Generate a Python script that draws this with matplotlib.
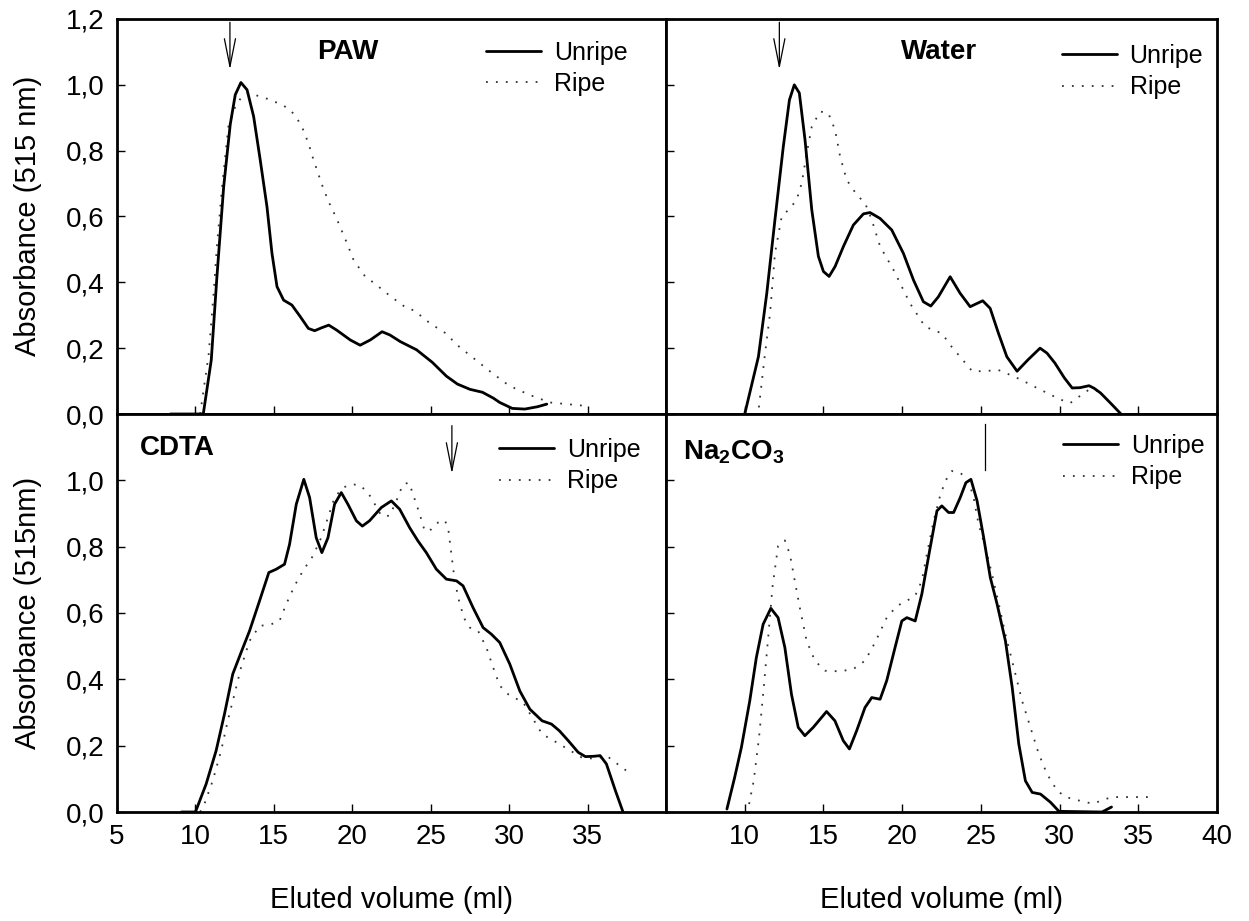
import matplotlib
matplotlib.use("Agg")
import matplotlib.pyplot as plt
from matplotlib.lines import Line2D

plt.rcParams['font.family'] = ['Liberation Sans', 'DejaVu Sans']
plt.rcParams['mathtext.fontset'] = 'custom'
plt.rcParams['mathtext.rm'] = 'Liberation Sans'
plt.rcParams['mathtext.bf'] = 'Liberation Sans:bold'

# ---- data (x = eluted volume ml, y = absorbance)
paw_unripe_x = [8.4, 10.5, 11.01, 11.37, 11.8, 12.22, 12.54, 12.9, 13.29, 13.71, 14.13, 14.56, 14.88, 15.2,
                15.62, 16.15, 16.68, 17.2, 17.6, 18.05, 18.5, 19.0, 19.87, 20.5, 21.15, 21.9, 22.4, 23.06,
                24.1, 25.1, 26.0, 26.7, 27.5, 28.3, 29.0, 29.4, 30.2, 31.0, 31.8, 32.4]
paw_unripe_y = [0.0, 0.0, 0.164, 0.417, 0.69, 0.88, 0.97, 1.007, 0.985, 0.904, 0.772, 0.63, 0.488, 0.387,
                0.346, 0.331, 0.296, 0.26, 0.253, 0.262, 0.27, 0.255, 0.225, 0.209, 0.225, 0.25, 0.24, 0.22,
                0.195, 0.157, 0.115, 0.091, 0.075, 0.066, 0.048, 0.035, 0.017, 0.015, 0.022, 0.03]
paw_ripe_x = [10.3, 10.84, 11.16, 11.37, 11.7, 12.1, 12.54, 12.9, 13.39, 14.45, 15.5, 16.05, 16.47, 16.79,
              17.2, 17.53, 18.07, 18.49, 19.0, 19.66, 20.08, 20.83, 21.36, 22.4, 23.48, 24.0, 24.6, 25.3,
              25.9, 26.8, 27.8, 28.9, 30.0, 31.3, 32.6, 33.7, 34.8]
paw_ripe_y = [0.0, 0.179, 0.367, 0.51, 0.69, 0.873, 0.934, 0.96, 0.975, 0.96, 0.94, 0.924, 0.898, 0.873,
              0.823, 0.772, 0.696, 0.645, 0.594, 0.519, 0.468, 0.417, 0.399, 0.359, 0.321, 0.314, 0.288, 0.265,
              0.247, 0.205, 0.167, 0.125, 0.086, 0.058, 0.035, 0.03, 0.025]

water_unripe_x = [10.0, 10.4, 10.87, 11.4, 11.92, 12.45, 12.84, 13.15, 13.47, 13.83, 14.26, 14.68, 15.0, 15.36,
                  15.74, 16.27, 16.9, 17.54, 17.96, 18.6, 19.34, 20.08, 20.72, 21.35, 21.82, 22.3, 23.05, 23.68,
                  24.32, 25.12, 25.59, 26.12, 26.65, 27.3, 28.0, 28.76, 29.2, 29.7, 30.3, 30.8, 31.3, 31.87,
                  32.2, 32.6, 33.3, 33.9]
water_unripe_y = [0.0, 0.08, 0.174, 0.366, 0.59, 0.812, 0.954, 1.0, 0.975, 0.833, 0.62, 0.479, 0.433, 0.418,
                  0.448, 0.509, 0.574, 0.608, 0.612, 0.594, 0.559, 0.488, 0.407, 0.341, 0.328, 0.356, 0.417, 0.367,
                  0.326, 0.344, 0.321, 0.245, 0.174, 0.13, 0.165, 0.20, 0.185, 0.155, 0.11, 0.079, 0.08, 0.086,
                  0.078, 0.064, 0.03, 0.0]
water_ripe_x = [10.9, 11.29, 11.61, 11.92, 12.35, 12.88, 13.3, 13.62, 13.94, 14.26, 14.79, 15.31, 15.74, 16.06,
                16.48, 17.12, 17.65, 18.07, 18.6, 19.45, 20.08, 20.5, 21.46, 22.52, 23.15, 23.68, 24.45, 25.2,
                26.1, 26.8, 27.56, 28.4, 29.2, 30.0, 30.67, 31.3, 31.87, 32.5]
water_ripe_y = [0.02, 0.184, 0.306, 0.488, 0.6, 0.625, 0.651, 0.701, 0.792, 0.873, 0.919, 0.914, 0.863, 0.782,
                0.711, 0.666, 0.64, 0.59, 0.509, 0.438, 0.377, 0.336, 0.265, 0.245, 0.204, 0.174, 0.13, 0.13,
                0.134, 0.12, 0.104, 0.083, 0.064, 0.045, 0.033, 0.055, 0.074, 0.069]

cdta_unripe_x = [9.1, 10.0, 10.68, 11.32, 11.85, 12.38, 12.91, 13.45, 14.09, 14.68, 15.15, 15.68, 16.0, 16.43,
                 16.91, 17.28, 17.7, 18.06, 18.45, 18.87, 19.3, 19.72, 20.26, 20.64, 21.1, 21.85, 22.49, 23.02,
                 23.66, 24.19, 24.72, 25.36, 26.0, 26.64, 27.06, 27.7, 28.34, 28.87, 29.4, 30.04, 30.68, 31.32,
                 32.1, 32.7, 33.2, 33.77, 34.4, 34.86, 35.4, 35.8, 36.2, 36.77, 37.26]
cdta_unripe_y = [0.0, 0.0, 0.084, 0.185, 0.295, 0.416, 0.481, 0.546, 0.637, 0.722, 0.732, 0.747, 0.807, 0.928,
                 1.003, 0.948, 0.827, 0.782, 0.827, 0.928, 0.963, 0.928, 0.878, 0.862, 0.878, 0.918, 0.938, 0.913,
                 0.857, 0.817, 0.782, 0.732, 0.702, 0.697, 0.682, 0.616, 0.556, 0.536, 0.511, 0.446, 0.365, 0.31,
                 0.275, 0.265, 0.245, 0.215, 0.18, 0.167, 0.168, 0.17, 0.145, 0.065, 0.0]
cdta_ripe_x = [10.3, 10.57, 11.1, 11.64, 12.06, 12.49, 12.91, 13.45, 14.09, 14.83, 15.36, 15.79, 16.32, 16.85,
               17.49, 18.02, 18.45, 18.87, 19.4, 19.94, 20.47, 21.0, 21.32, 21.85, 22.38, 22.81, 23.23, 23.62,
               23.98, 24.3, 24.62, 25.04, 25.47, 25.89, 26.11, 26.32, 26.53, 26.85, 27.17, 27.49, 28.02, 28.55,
               28.98, 29.4, 29.94, 30.9, 32.1, 33.2, 34.6, 35.5, 36.2, 37.6]
cdta_ripe_y = [0.0, 0.024, 0.094, 0.185, 0.275, 0.355, 0.436, 0.516, 0.561, 0.566, 0.576, 0.627, 0.682, 0.727,
               0.772, 0.827, 0.888, 0.948, 0.978, 0.988, 0.986, 0.963, 0.938, 0.893, 0.893, 0.938, 0.988, 0.993,
               0.943, 0.898, 0.847, 0.852, 0.873, 0.88, 0.857, 0.777, 0.697, 0.627, 0.581, 0.556, 0.546, 0.496,
               0.436, 0.381, 0.355, 0.33, 0.235, 0.205, 0.165, 0.16, 0.17, 0.12]

na_unripe_x = [8.87, 9.36, 9.79, 10.32, 10.74, 11.17, 11.66, 12.12, 12.55, 12.97, 13.4, 13.82, 14.35, 15.2,
               15.73, 16.26, 16.65, 17.11, 17.64, 18.07, 18.6, 19.02, 19.55, 19.98, 20.3, 20.83, 21.25, 21.78,
               22.21, 22.52, 22.95, 23.27, 23.69, 24.05, 24.37, 24.76, 25.18, 25.6, 26.03, 26.56, 26.99, 27.41,
               27.83, 28.26, 28.79, 29.43, 29.96, 32.7, 33.3]
na_unripe_y = [0.009, 0.104, 0.195, 0.335, 0.466, 0.566, 0.614, 0.586, 0.496, 0.355, 0.255, 0.23, 0.255, 0.303,
               0.275, 0.215, 0.19, 0.245, 0.315, 0.345, 0.34, 0.396, 0.496, 0.576, 0.586, 0.576, 0.657, 0.797,
               0.908, 0.923, 0.903, 0.903, 0.948, 0.993, 1.003, 0.938, 0.827, 0.707, 0.627, 0.516, 0.376, 0.205,
               0.094, 0.059, 0.054, 0.029, 0.002, 0.0, 0.015]
na_ripe_x = [10.28, 10.57, 10.91, 11.21, 11.49, 11.76, 12.12, 12.55, 12.87, 13.18, 13.5, 13.93, 14.46, 15.1,
             16.05, 16.9, 17.64, 18.28, 19.02, 19.66, 20.3, 20.83, 21.25, 21.57, 22.0, 22.38, 22.74, 23.16,
             23.69, 24.22, 24.54, 24.86, 25.29, 25.71, 26.14, 26.56, 27.09, 27.62, 28.15, 28.68, 29.21, 29.85,
             30.4, 31.2, 32.1, 33.3, 34.75, 35.95]
na_ripe_y = [0.024, 0.094, 0.225, 0.376, 0.526, 0.677, 0.802, 0.819, 0.777, 0.697, 0.616, 0.516, 0.456, 0.426,
             0.424, 0.431, 0.456, 0.511, 0.586, 0.621, 0.637, 0.652, 0.697, 0.777, 0.878, 0.948, 0.998, 1.028,
             1.023, 0.998, 0.948, 0.867, 0.797, 0.717, 0.627, 0.536, 0.436, 0.335, 0.255, 0.175, 0.114, 0.064,
             0.045, 0.035, 0.025, 0.045, 0.045, 0.045]

# marker arrows: x position, top, bottom (data units)
paw_arrow = (12.2, 1.19, 1.046)
water_arrow = (12.2, 1.19, 1.046)
cdta_arrow = (26.35, 1.165, 1.02)
na_marker = (25.29, 1.17, 1.03)

yticks = [0.0, 0.2, 0.4, 0.6, 0.8, 1.0, 1.2]
xticks = [5, 10, 15, 20, 25, 30, 35, 40]

W, H = 1249, 921
fig = plt.figure(figsize=(W / 100, H / 100), dpi=100)

xl, xm, xr = 117 / W, 666 / W, 1217 / W
yb, ym, yt = 1 - 812 / H, 1 - 414 / H, 1 - 19 / H

ax_paw = fig.add_axes([xl, ym, xm - xl, yt - ym])
ax_wat = fig.add_axes([xm, ym, xr - xm, yt - ym])
ax_cdta = fig.add_axes([xl, yb, xm - xl, ym - yb])
ax_na = fig.add_axes([xm, yb, xr - xm, ym - yb])

solid = dict(color='black', lw=2.0, solid_joinstyle='round', solid_capstyle='round')
dotted = dict(color='#333333', lw=1.3, linestyle=(0, (1, 4.5)))

def fmt(v):
    return f"{v:.1f}".replace('.', ',')

def setup(ax, ylab, xlab, ylabels_skip_top, xlab_skip):
    ax.set_xlim(5, 40)
    ax.set_ylim(0, 1.2)
    ax.set_xticks(xticks)
    ax.set_yticks(yticks)
    for s in ax.spines.values():
        s.set_linewidth(2.0)
    ax.tick_params(direction='in', length=6, width=1, labelsize=20, pad=9)
    if ylab:
        labs = [fmt(v) for v in yticks]
        if ylabels_skip_top:
            labs[-1] = ''
        ax.set_yticklabels(labs)
    else:
        ax.set_yticklabels([])
    if xlab:
        labs = [str(v) for v in xticks]
        labs[xlab_skip] = ''
        ax.set_xticklabels(labs)
    else:
        ax.set_xticklabels([])

setup(ax_paw, True, False, False, None)
setup(ax_wat, False, False, False, None)
setup(ax_cdta, True, True, True, -1)
setup(ax_na, False, True, False, 0)

panels = [
    (ax_paw, paw_unripe_x, paw_unripe_y, paw_ripe_x, paw_ripe_y),
    (ax_wat, water_unripe_x, water_unripe_y, water_ripe_x, water_ripe_y),
    (ax_cdta, cdta_unripe_x, cdta_unripe_y, cdta_ripe_x, cdta_ripe_y),
    (ax_na, na_unripe_x, na_unripe_y, na_ripe_x, na_ripe_y),
]
for ax, ux, uy, rx, ry in panels:
    ax.plot(rx, ry, **dotted, clip_on=False)
    ax.plot(ux, uy, **solid)

# arrows
for ax, (ax_x, y0, y1) in [(ax_paw, paw_arrow), (ax_wat, water_arrow), (ax_cdta, cdta_arrow)]:
    ax.annotate('', xy=(ax_x, y1), xytext=(ax_x, y0),
                arrowprops=dict(arrowstyle='->,head_length=1.0,head_width=0.2',
                                lw=0.9, color='black', mutation_scale=20,
                                shrinkA=0, shrinkB=0))
ax_na.plot([na_marker[0], na_marker[0]], [na_marker[1], na_marker[2]], color='black', lw=0.9)

# panel titles
ax_paw.text(19.7, 1.10, 'PAW', fontsize=20, fontweight='bold', ha='center', va='center')
ax_wat.text(22.35, 1.10, 'Water', fontsize=20, fontweight='bold', ha='center', va='center')
ax_cdta.text(6.45, 1.097, 'CDTA', fontsize=20, fontweight='bold', ha='left', va='center')
ax_na.text(6.1, 1.085, 'Na$_\\mathbf{2}$CO$_\\mathbf{3}$', fontsize=20, fontweight='bold',
           ha='left', va='center')

# legends
handles = [Line2D([], [], **solid), Line2D([], [], **dotted)]
for ax, anchor in [(ax_paw, (0.931, 0.945)), (ax_wat, (0.975, 0.937)),
                   (ax_cdta, (0.954, 0.94)), (ax_na, (0.978, 0.95))]:
    ax.legend(handles, ['Unripe', 'Ripe'], loc='upper right', bbox_to_anchor=anchor,
              frameon=False, fontsize=18, handlelength=2.2, handletextpad=0.52,
              labelspacing=0.3, borderpad=0, borderaxespad=0)

# axis labels
fig.text(28 / W, 1 - 216 / H, 'Absorbance (515 nm)', rotation=90, ha='center', va='center', fontsize=21)
fig.text(28 / W, 1 - 613 / H, 'Absorbance (515nm)', rotation=90, ha='center', va='center', fontsize=21)
fig.text((xl + xm) / 2, 1 - 900 / H, 'Eluted volume (ml)', ha='center', va='center', fontsize=21)
fig.text((xm + xr) / 2, 1 - 900 / H, 'Eluted volume (ml)', ha='center', va='center', fontsize=21)

fig.savefig('out.png', dpi=100)
